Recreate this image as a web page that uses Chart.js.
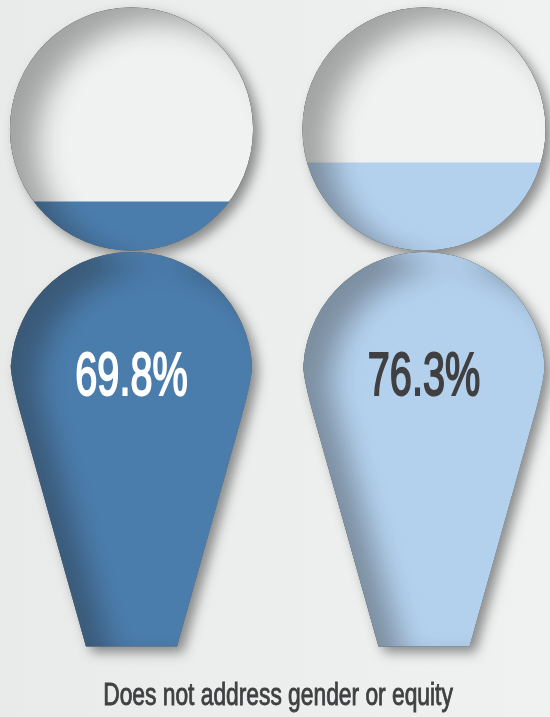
<!DOCTYPE html>
<html>
<head>
<meta charset="utf-8">
<style>
  html, body { margin: 0; padding: 0; background: #eceeed; }
  canvas { display: block; }
</style>
<script src="https://cdn.jsdelivr.net/npm/chart.js@4"></script>
</head>
<body>
<canvas id="figures" width="550" height="717"></canvas>
<script>
const categories = ["Men", "Women"];
const percentValues = [69.8, 76.3];
const fillColors = ["#4a7cac", "#b3d0ed"];
const labelColors = ["#ffffff", "#404042"];
const caption = "Does not address gender or equity";

const yMin = -4.3;
const yMax = 102.2;

function figurePath(ctx, cx, top, bottom) {
  const headR = 121.6;
  ctx.moveTo(cx + headR, top + headR);
  ctx.arc(cx, top + headR, headR, 0, Math.PI * 2);
  const bodyTop = top + 2 * headR + 1.2;
  const bodyR = 120.8;
  const bodyCy = bodyTop + bodyR;
  const foot = 45.5;
  const slope = 0.281;
  const cornerRise = 228;
  const cornerX = foot + slope * cornerRise;
  const controlY = bottom - (bodyR - foot) / slope;
  ctx.moveTo(cx - foot, bottom);
  ctx.lineTo(cx - cornerX, bottom - cornerRise);
  ctx.quadraticCurveTo(cx - bodyR, controlY, cx - bodyR, bodyCy - 8);
  ctx.arc(cx, bodyCy, bodyR, Math.PI + 0.066, -0.066);
  ctx.quadraticCurveTo(cx + bodyR, controlY, cx + cornerX, bottom - cornerRise);
  ctx.lineTo(cx + foot, bottom);
  ctx.closePath();
}

function narrowText(ctx, text, x, y, font, squeeze, color, weight) {
  ctx.save();
  ctx.font = font;
  ctx.fillStyle = color;
  ctx.strokeStyle = color;
  ctx.lineWidth = weight;
  ctx.textAlign = "center";
  ctx.textBaseline = "alphabetic";
  ctx.translate(x, y);
  ctx.scale(squeeze, 1);
  ctx.fillText(text, 0, 0);
  ctx.strokeText(text, 0, 0);
  ctx.restore();
}

const figurePlugin = {
  id: "figures",
  beforeDraw(chart) {
    const ctx = chart.ctx;
    const bg = ctx.createLinearGradient(0, 0, chart.width, 0);
    bg.addColorStop(0, "#e9ebea");
    bg.addColorStop(1, "#f0f2f1");
    ctx.fillStyle = bg;
    ctx.fillRect(0, 0, chart.width, chart.height);
  },
  beforeDatasetsDraw(chart) {
    const ctx = chart.ctx;
    const area = chart.chartArea;
    const xs = categories.map((c, i) => chart.scales.x.getPixelForValue(i));
    ctx.save();
    ctx.shadowColor = "rgba(0,0,0,0.42)";
    ctx.shadowBlur = 12;
    ctx.shadowOffsetX = 6;
    ctx.shadowOffsetY = 6;
    ctx.fillStyle = "#f0f2f1";
    ctx.beginPath();
    xs.forEach(x => figurePath(ctx, x, area.top, area.bottom));
    ctx.fill();
    ctx.restore();

    ctx.save();
    ctx.beginPath();
    xs.forEach(x => figurePath(ctx, x, area.top, area.bottom));
    ctx.clip();
  },
  afterDatasetsDraw(chart) {
    const ctx = chart.ctx;
    const area = chart.chartArea;
    const xs = categories.map((c, i) => chart.scales.x.getPixelForValue(i));
    // inner shadow: a sheet with figure-shaped holes, only its shadow lands inside the clip
    ctx.save();
    ctx.shadowColor = "rgba(30,30,30,0.37)";
    ctx.shadowBlur = 28;
    ctx.shadowOffsetX = 27;
    ctx.shadowOffsetY = 15;
    ctx.fillStyle = "#000";
    ctx.beginPath();
    ctx.rect(-800, -800, 2200, 2400);
    xs.forEach(x => figurePath(ctx, x, area.top, area.bottom));
    ctx.fill("evenodd");
    ctx.restore();
    ctx.restore();

    percentValues.forEach((v, i) => {
      narrowText(ctx, v.toFixed(1) + "%", xs[i], 394.5, "62px 'Liberation Sans'", 0.64, labelColors[i], 2);
    });
    narrowText(ctx, caption, 278, 705, "31px 'Liberation Sans'", 0.735, "#404042", 0.9);
  }
};

new Chart(document.getElementById("figures"), {
  type: "bar",
  data: {
    labels: categories,
    datasets: [{
      data: percentValues,
      backgroundColor: fillColors,
      base: yMin,
      barThickness: 270,
      clip: false,
      borderWidth: 0
    }]
  },
  options: {
    responsive: false,
    animation: false,
    layout: { padding: { left: 131.5, right: 126, top: 7.5, bottom: 70.5 } },
    plugins: { legend: { display: false }, tooltip: { enabled: false }, title: { display: false } },
    scales: {
      x: { display: false, offset: false },
      y: { display: false, min: yMin, max: yMax }
    }
  },
  plugins: [figurePlugin]
});
</script>
</body>
</html>
